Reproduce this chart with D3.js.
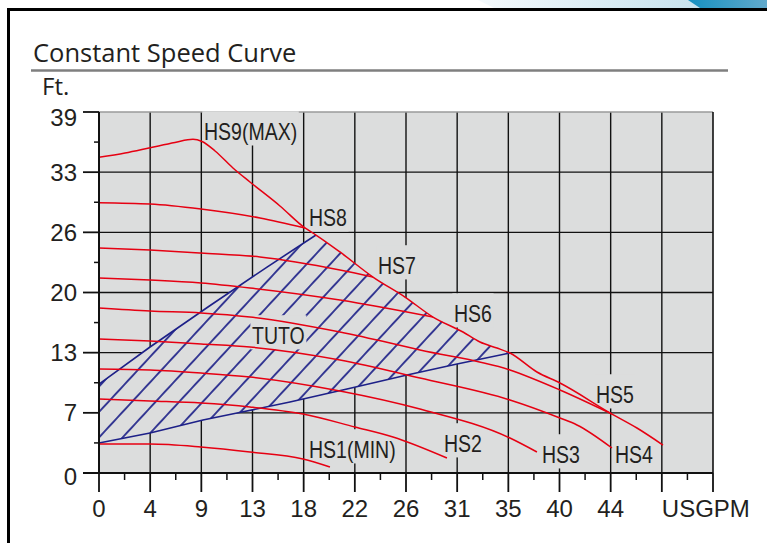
<!DOCTYPE html>
<html><head><meta charset="utf-8">
<script src="https://cdn.jsdelivr.net/npm/d3@7"></script>
<style>body{margin:0;background:#fff;} svg{display:block}</style>
</head><body>
<svg id="chart" width="767" height="543"></svg>
<script>
// ---- axis ticks ----
const xTickValues = [0,4.4,8.8,13.2,17.6,22,26.4,30.8,35.2,39.6,44,48.4,52.8];
const xTickLabels = ["0","4","9","13","18","22","26","31","35","40","44","",""];
const xUnitLabel = "USGPM";
const yTickValues = [0,6.5,13,19.5,26,32.5,39];
const yTickLabels = ["0","7","13","20","26","33","39"];
const yUnitLabel = "Ft.";
const titleText = "Constant Speed Curve";

// ---- speed curves (flow USGPM, head ft) ----
const hs9Flow = [0,2.24,4.39,6.53,8.08,8.86,9.98,11.52,12.98,15.56,17.71,18.66,20.72,23.56,26.31,28.72,31.30,32.76,34.22,35.34,37.66,39.64,44.11,46.26,48.50];
const hs9Head = [34.11,34.57,35.14,35.71,36.05,35.81,34.79,32.95,31.44,28.85,26.47,25.71,23.88,21.17,19.01,16.85,15.23,14.15,13.50,12.96,10.91,9.72,6.37,4.86,3.02];
const hs8Flow = [0,4.39,8.77,13.84,17.71];
const hs8Head = [29.20,29.06,28.52,27.55,26.47];
const hs7Flow = [0,4.39,8.77,13.84,20.72,23.56];
const hs7Head = [24.31,24.09,23.77,23.34,21.93,21.17];
const hs6Flow = [0,4.39,8.77,12.98,20.72,28.72];
const hs6Head = [21.07,20.85,20.53,19.99,18.69,16.85];
const hs5Flow = [0,4.39,8.77,12.98,20.72,27.60,35.34,39.64,44.11];
const hs5Head = [17.83,17.50,17.29,16.85,15.23,13.29,11.13,8.97,6.37];
const hs4Flow = [0,4.39,8.77,12.98,20.72,27.60,35.34,39.64,41.10,44.11];
const hs4Head = [14.48,14.26,13.94,13.61,12.21,10.26,7.89,5.94,5.19,2.70];
const hs3Flow = [0,4.39,8.77,12.98,20.72,27.60,35.34,37.66];
const hs3Head = [11.24,11.13,10.80,10.37,8.86,6.91,3.78,2.27];
const hs2Flow = [0,4.39,8.77,12.98,17.54,22.01,25.28,29.92];
const hs2Head = [7.99,7.78,7.56,7.13,6.37,4.97,3.89,1.62];
const hs1Flow = [0,4.39,8.77,12.98,17.54,19.86];
const hs1Head = [3.13,3.13,2.81,2.27,1.51,0.65];

// ---- TUTO (auto) operating region ----
const tutoUpperFlow = [0,4.39,9.37,14.45,18.66];
const tutoUpperHead = [9.61,13.61,17.93,22.25,25.71];
const tutoLowerFlow = [35.34,30.79,26.49,21.33,16.42,11.87,8.94,4.39,0];
const tutoLowerHead = [12.96,11.78,10.59,9.07,7.67,6.48,5.73,4.32,3.24];
const hatchAnchorHead = 6.59;

// ---- labels ----
const labelNames = ["HS9(MAX)","HS8","HS7","HS6","HS5","HS4","HS3","HS2","HS1(MIN)","TUTO"];
const labelFlow  = [9.03,18.06,23.99,30.53,42.74,44.37,38.09,29.67,18.06,13.16];
const labelHead  = [35.97,26.68,21.50,16.31,7.56,1.08,1.08,2.27,1.62,13.94];

const curves = [
  [hs9Flow,hs9Head],[hs8Flow,hs8Head],[hs7Flow,hs7Head],[hs6Flow,hs6Head],[hs5Flow,hs5Head],
  [hs4Flow,hs4Head],[hs3Flow,hs3Head],[hs2Flow,hs2Head],[hs1Flow,hs1Head]
].map(([f,h]) => f.map((v,i)=>[v,h[i]]));

// ---- styles ----
const INK = "#231f20", PLOT_BG = "#dcdddd", RED = "#e60012", BLUE = "#1d2088";
const tf = "'Liberation Sans', Arial, sans-serif";

const svg = d3.select("#chart");
const x = d3.scaleLinear().domain([0,52.8]).range([99,713]);
const y = d3.scaleLinear().domain([0,39]).range([473,112]);

// header decoration
const defs = svg.append("defs");
const g1 = defs.append("linearGradient").attr("id","pale").attr("x1","0").attr("x2","1");
g1.append("stop").attr("offset","0").attr("stop-color","#f4f9fc");
g1.append("stop").attr("offset","1").attr("stop-color","#b9dbe9");
const g2 = defs.append("linearGradient").attr("id","deep").attr("x1","0").attr("x2","1");
g2.append("stop").attr("offset","0").attr("stop-color","#1690c0");
g2.append("stop").attr("offset","1").attr("stop-color","#62aacc");
svg.append("path").attr("d","M478,0 L767,0 L767,8 L494,8 Z").attr("fill","url(#pale)");
svg.append("path").attr("d","M688,0 L767,0 L767,8 L700,8 Z").attr("fill","url(#deep)");
// frame
svg.append("line").attr("x1",7).attr("x2",767).attr("y1",9.5).attr("y2",9.5).attr("stroke","#000").attr("stroke-width",3);
svg.append("line").attr("x1",8.5).attr("x2",8.5).attr("y1",8).attr("y2",543).attr("stroke","#000").attr("stroke-width",3);

// title
svg.append("text").attr("x",33).attr("y",62).text(titleText)
  .attr("font-family","'Open Sans', 'Noto Sans', sans-serif").attr("font-size",25.5).attr("fill",INK);
svg.append("line").attr("x1",31).attr("x2",728).attr("y1",70.5).attr("y2",70.5).attr("stroke","#7f7f7f").attr("stroke-width",2.4);
svg.append("text").attr("x",42).attr("y",95).text(yUnitLabel)
  .attr("font-family","'Open Sans', 'Noto Sans', sans-serif").attr("font-size",24).attr("fill",INK);

// plot background
const [x0,x1] = x.range(), [yb,yt] = y.range();
svg.append("rect").attr("x",x0).attr("y",yt).attr("width",x1-x0).attr("height",yb-yt).attr("fill",PLOT_BG);

// grid
const grid = svg.append("g").attr("stroke","#111").attr("stroke-width",1.4);
grid.selectAll("line.v").data(xTickValues.slice(1,-1)).join("line").attr("class","v")
  .attr("x1",d=>x(d)).attr("x2",d=>x(d)).attr("y1",yt).attr("y2",yb);
grid.selectAll("line.h").data(yTickValues.slice(1,-1)).join("line").attr("class","h")
  .attr("x1",x0).attr("x2",x1).attr("y1",d=>y(d)).attr("y2",d=>y(d));
svg.append("line").attr("x1",x0).attr("x2",x1).attr("y1",yt).attr("y2",yt).attr("stroke","#9a9a9a").attr("stroke-width",1.6);
svg.append("line").attr("x1",x1).attr("x2",x1).attr("y1",yt).attr("y2",yb).attr("stroke","#111").attr("stroke-width",1.6);

// TUTO region
const line = d3.line().x(d=>x(d[0])).y(d=>y(d[1]));
const envSeg = curves[0].filter(d => d[0] > tutoUpperFlow[tutoUpperFlow.length-1] && d[0] < tutoLowerFlow[0]);
const upper = tutoUpperFlow.map((v,i)=>[v,tutoUpperHead[i]]);
const lower = tutoLowerFlow.map((v,i)=>[v,tutoLowerHead[i]]);
const region = upper.concat(envSeg, lower);
const hw = 17.3;
const pat = defs.append("pattern").attr("id","hatch").attr("patternUnits","userSpaceOnUse")
  .attr("width",hw).attr("height",40)
  .attr("patternTransform",`translate(${x(0)},${y(hatchAnchorHead)}) rotate(42.8) translate(${-hw/2},0)`);
pat.append("line").attr("x1",hw/2).attr("x2",hw/2).attr("y1",-5).attr("y2",45)
  .attr("stroke",BLUE).attr("stroke-width",1.7);
svg.append("path").attr("d",line(region)+"Z").attr("fill",PLOT_BG);
svg.append("path").attr("d",line(region)+"Z").attr("fill","url(#hatch)");
svg.append("path").attr("d",line(upper)).attr("fill","none").attr("stroke",BLUE).attr("stroke-width",1.6);
svg.append("path").attr("d",line(lower)).attr("fill","none").attr("stroke",BLUE).attr("stroke-width",1.6);

// label background layer (above grid & hatch, below curves)
const bgLayer = svg.append("g");
// speed curves
const cl = d3.line().x(d=>x(d[0])).y(d=>y(d[1])).curve(d3.curveMonotoneX);
svg.append("g").selectAll("path").data(curves).join("path")
  .attr("d",cl).attr("fill","none").attr("stroke",RED).attr("stroke-width",1.5);
// label text layer
const labelTf = (d,i)=>`translate(${x(labelFlow[i])},${y(labelHead[i])}) scale(0.83,1)`;
const labs = svg.append("g").selectAll("text").data(labelNames).join("text")
  .attr("transform",labelTf).text(d=>d)
  .attr("font-family",tf).attr("font-size",23.5).attr("fill",INK);
labs.each(function(d,i){
  const bb = this.getBBox();
  bgLayer.append("rect").attr("transform",labelTf(d,i))
    .attr("x",bb.x-2).attr("y",bb.y-7).attr("width",bb.width+4).attr("height",bb.height+7)
    .attr("fill",PLOT_BG);
});

// axes
const axisG = svg.append("g").attr("stroke","#111");
axisG.append("line").attr("x1",x0).attr("x2",x0).attr("y1",yt).attr("y2",yb).attr("stroke-width",2);
axisG.append("line").attr("x1",x0-16).attr("x2",x1).attr("y1",yb).attr("y2",yb).attr("stroke-width",2);
axisG.selectAll("line.ym").data(yTickValues).join("line").attr("class","ym")
  .attr("x1",x0-16).attr("x2",x0).attr("y1",d=>y(d)).attr("y2",d=>y(d)).attr("stroke-width",1.8);
axisG.selectAll("line.yn").data(d3.range(yTickValues.length-1).map(i=>(yTickValues[i]+yTickValues[i+1])/2)).join("line").attr("class","yn")
  .attr("x1",x0-5).attr("x2",x0).attr("y1",d=>y(d)).attr("y2",d=>y(d)).attr("stroke-width",1.5);
axisG.selectAll("line.xm").data(xTickValues).join("line").attr("class","xm")
  .attr("x1",d=>x(d)).attr("x2",d=>x(d)).attr("y1",yb).attr("y2",yb+19).attr("stroke-width",1.8);
axisG.selectAll("line.xn").data(d3.range(xTickValues.length-1).map(i=>(xTickValues[i]+xTickValues[i+1])/2)).join("line").attr("class","xn")
  .attr("x1",d=>x(d)).attr("x2",d=>x(d)).attr("y1",yb).attr("y2",yb+7).attr("stroke-width",1.5);

svg.append("g").selectAll("text").data(yTickValues).join("text")
  .attr("x",x0-22).attr("y",d=>y(d)).attr("dy",(d,i)=> i===yTickValues.length-1 ? "0.6em" : (i===0 ? "0.52em" : "0.36em"))
  .attr("text-anchor","end")
  .attr("font-family",tf).attr("font-size",24).attr("fill",INK).text((d,i)=>yTickLabels[i]);
svg.append("g").selectAll("text").data(xTickValues).join("text")
  .attr("x",d=>x(d)).attr("y",517).attr("text-anchor","middle")
  .attr("font-family",tf).attr("font-size",24).attr("fill",INK).text((d,i)=>xTickLabels[i]);
svg.append("text").attr("x",x(xTickValues[11])).attr("y",517).attr("font-family",tf)
  .attr("font-size",24).attr("fill",INK).text(xUnitLabel);
</script>
</body></html>
